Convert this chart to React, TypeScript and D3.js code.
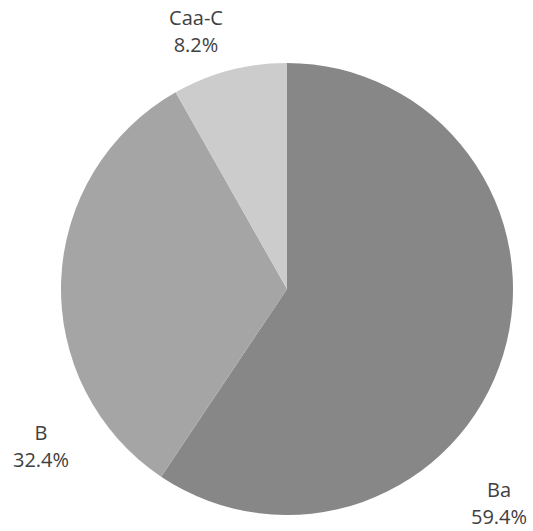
import React from "react";
import * as d3 from "d3";

const categories = ["Ba", "B", "Caa-C"];
const values = [59.4, 32.4, 8.2];
const colors = ["#878787", "#a5a5a5", "#cccccc"];
const labelPos: [number, number][] = [
  [499, 497],
  [41, 440],
  [196, 25],
];

const W = 533;
const H = 531;
const cx = 287;
const cy = 289;
const R = 226;

export default function App() {
  const pie = d3
    .pie<number>()
    .sort(null)
    .startAngle(0)
    .endAngle(2 * Math.PI)
    .value((d) => d);
  const arcs = pie(values);
  const arc = d3.arc<d3.PieArcDatum<number>>().innerRadius(0).outerRadius(R);
  return (
    <svg
      width={W}
      height={H}
      style={{ position: "absolute", left: 0, top: 0, background: "#fff" }}
      fontFamily="'Open Sans', sans-serif"
    >
      <g transform={`translate(${cx},${cy})`}>
        {arcs.map((a, i) => (
          <path key={i} d={arc(a) || ""} fill={colors[i]} />
        ))}
      </g>
      {categories.map((c, i) => (
        <text key={c} x={labelPos[i][0]} y={labelPos[i][1]} textAnchor="middle" fontSize={20} fill="#404040">
          <tspan x={labelPos[i][0]}>{c}</tspan>
          <tspan x={labelPos[i][0]} dy={27}>{`${values[i].toFixed(1)}%`}</tspan>
        </text>
      ))}
    </svg>
  );
}
